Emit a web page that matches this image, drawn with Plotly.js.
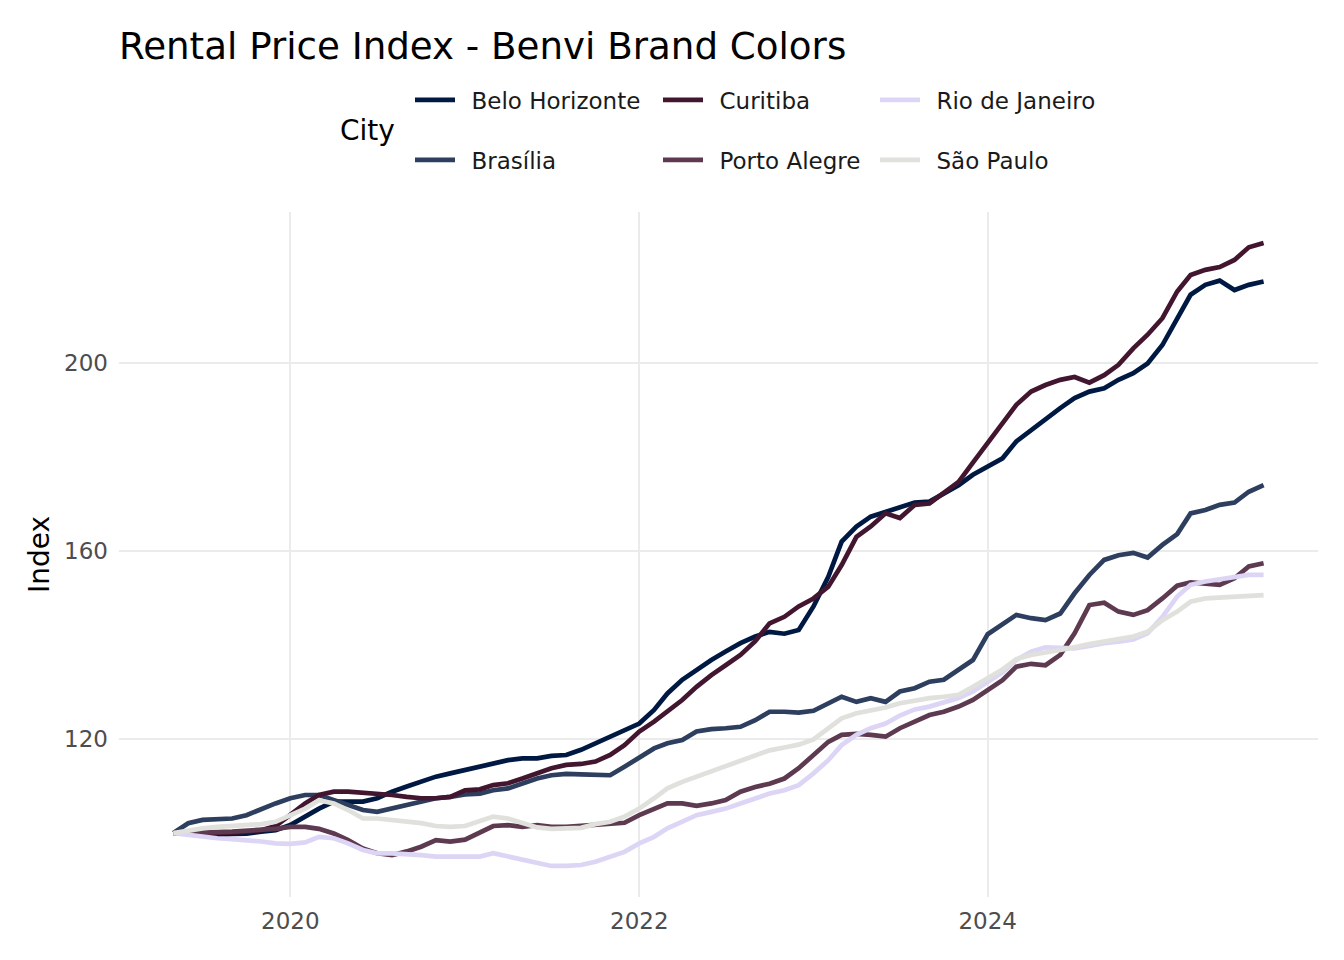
<!DOCTYPE html>
<html>
<head>
<meta charset="utf-8">
<script src="https://cdn.plot.ly/plotly-3.0.1.min.js"></script>
<style>
  html, body { margin: 0; padding: 0; background: #fff; }
  #chart { width: 1344px; height: 960px; }
</style>
</head>
<body>
<div id="chart"></div>
<script>
// monthly index, 2019-05 .. 2025-08
const START_MONTH = "2019-05";
const N_MONTHS = 76;

const cities = ["Belo Horizonte", "Brasília", "Curitiba", "Porto Alegre", "Rio de Janeiro", "São Paulo"];
const colors = ["#001942", "#2d3e5e", "#431630", "#5e3a50", "#ddd5f5", "#e0e0dc"];

const beloHorizonte = [
  100.0, 99.8, 99.6, 99.6, 99.8, 99.9, 100.3, 100.6, 101.7, 103.5,
  105.2, 106.7, 106.7, 106.7, 107.4, 108.8, 109.9, 110.9, 112.0, 112.7,
  113.4, 114.0, 114.8, 115.5, 115.9, 115.9, 116.4, 116.6, 117.7, 119.1,
  120.5, 121.9, 123.3, 126.2, 129.7, 132.6, 134.7, 136.8, 138.6, 140.4,
  141.8, 142.8, 142.4, 143.2, 148.2, 154.5, 162.0, 165.2, 167.3, 168.4,
  169.4, 170.3, 170.5, 172.3, 174.0, 176.2, 178.0, 179.7, 183.3, 185.7,
  188.2, 190.4, 192.5, 193.9, 194.6, 196.4, 197.8, 199.9, 203.8, 209.5,
  214.5, 216.6, 217.5, 215.5, 216.6, 217.3
];
const brasilia = [
  100.0, 102.1, 102.8, 102.9, 103.1, 103.8, 105.2, 106.3, 107.4, 108.1,
  108.1, 107.0, 106.0, 104.9, 104.5, 105.2, 106.0, 106.7, 107.4, 107.7,
  108.2, 108.4, 109.1, 109.5, 110.6, 111.6, 112.3, 112.6, 112.5, 112.3,
  112.3, 114.1, 116.2, 118.0, 119.1, 119.8, 121.6, 122.1, 122.3, 122.6,
  124.0, 125.8, 125.8, 125.6, 126.0, 127.6, 129.0, 127.9, 128.7, 127.9,
  130.1, 130.8, 132.2, 132.6, 134.7, 136.8, 142.3, 144.5, 146.4, 145.7,
  145.3, 146.7, 151.0, 154.9, 158.1, 159.1, 159.6, 158.6, 161.3, 163.6,
  168.0, 168.7, 169.8, 170.3, 172.6, 174.0
];
const curitiba = [
  100.0, 100.0, 100.0, 100.1, 100.1, 100.3, 100.6, 101.5, 103.8, 106.3,
  108.1, 108.8, 108.8, 108.6, 108.4, 108.1, 107.7, 107.4, 107.4, 107.7,
  109.1, 109.3, 110.2, 110.6, 111.6, 112.7, 113.8, 114.5, 114.7, 115.2,
  116.6, 118.7, 121.6, 123.7, 125.8, 128.3, 131.1, 133.6, 135.7, 137.9,
  140.8, 144.6, 146.0, 148.2, 149.9, 152.4, 157.0, 163.0, 165.2, 168.0,
  167.0, 169.8, 170.1, 172.3, 174.7, 178.8, 182.9, 187.2, 191.1, 193.9,
  195.3, 196.4, 197.0, 195.8, 197.4, 199.6, 203.1, 206.0, 209.5, 215.2,
  218.7, 219.8, 220.4, 221.9, 224.6, 225.5
];
const portoAlegre = [
  100.0, 100.0, 100.1, 100.2, 100.3, 100.5, 100.6, 100.9, 101.3, 101.3,
  100.9, 99.9, 98.5, 96.7, 95.7, 95.3, 96.1, 97.1, 98.5, 98.2,
  98.6, 100.1, 101.5, 101.7, 101.3, 101.7, 101.3, 101.3, 101.5, 101.7,
  102.1, 102.2, 103.8, 105.2, 106.3, 106.3, 105.8, 106.3, 107.0, 108.8,
  109.8, 110.5, 111.6, 113.8, 116.6, 119.4, 120.9, 121.1, 120.9, 120.5,
  122.3, 123.8, 125.1, 125.8, 126.9, 128.3, 130.4, 132.5, 135.4, 136.0,
  135.7, 137.9, 142.5, 148.5, 149.0, 147.1, 146.4, 147.4, 149.9, 152.6,
  153.3, 153.0, 152.8, 154.2, 156.7, 157.4
];
const rioDeJaneiro = [
  100.0, 99.6, 99.2, 98.9, 98.7, 98.5, 98.2, 97.8, 97.7, 98.0,
  99.2, 98.9, 97.8, 96.4, 95.7, 95.7, 95.6, 95.3, 95.0, 95.0,
  94.8, 95.0, 95.7, 95.0, 94.3, 93.5, 93.0, 93.0, 93.2, 93.9,
  95.0, 96.0, 97.8, 99.2, 101.0, 102.4, 103.8, 104.5, 105.2, 106.3,
  107.4, 108.4, 109.1, 110.2, 112.7, 115.5, 118.7, 120.9, 122.3, 123.3,
  125.0, 126.3, 126.9, 127.7, 128.7, 130.1, 132.2, 134.2, 136.8, 138.6,
  139.5, 139.3, 139.3, 139.8, 140.4, 140.7, 141.2, 142.5, 146.0, 150.3,
  152.8, 153.5, 154.0, 154.5, 154.9, 154.9
];
const saoPaulo = [
  100.0, 100.6, 101.0, 101.3, 101.5, 101.7, 101.9, 102.4, 103.8, 105.2,
  107.0, 106.3, 104.9, 103.1, 103.1, 102.8, 102.4, 102.1, 101.5, 101.3,
  101.5, 102.6, 103.5, 103.1, 102.1, 101.2, 100.9, 100.9, 101.1, 101.9,
  102.4, 103.5, 105.2, 107.4, 109.5, 110.9, 112.0, 113.0, 114.1, 115.3,
  116.4, 117.6, 118.2, 118.8, 119.9, 122.3, 124.4, 125.5, 126.0, 126.7,
  127.6, 128.2, 128.7, 129.0, 129.4, 131.1, 132.9, 134.8, 137.0, 137.9,
  138.4, 138.9, 139.5, 140.2, 140.7, 141.2, 141.8, 142.8, 145.3, 147.1,
  149.2, 149.9, 150.1, 150.1, 150.3, 150.6
];

const series = [beloHorizonte, brasilia, curitiba, portoAlegre, rioDeJaneiro, saoPaulo];

const xTickVals = ["2020-01-01", "2022-01-01", "2024-01-01"];
const xTickText = ["2020", "2022", "2024"];
const yTickVals = [120, 160, 200];

function monthSeq(start, n) {
  let [y, m] = start.split("-").map(Number);
  const out = [];
  for (let k = 0; k < n; k++) {
    out.push(`${y}-${String(m).padStart(2, "0")}-01`);
    m++;
    if (m > 12) { m = 1; y++; }
  }
  return out;
}

const dates = monthSeq(START_MONTH, N_MONTHS);

// ggplot-style legend: two rows (legend / legend2), columns of fixed width
const legendRow = ["legend", "legend2", "legend", "legend2", "legend", "legend2"];
const legendW = [193, 193, 162, 162, 0, 0];

const FONT = "DejaVu Sans";

const traces = cities.map((name, k) => ({
  type: "scatter",
  mode: "lines",
  // en space widens the gap between key and label, as in the original
  name: "\u2002" + name,
  x: dates,
  y: series[k],
  line: { color: colors[k], width: 4.7 },
  legend: legendRow[k],
  legendwidth: legendW[k] || undefined,
  hoverinfo: "skip",
}));

const legendBase = {
  orientation: "h",
  xref: "container",
  yref: "container",
  x: 410 / 1344,
  xanchor: "left",
  yanchor: "middle",
  itemwidth: 40,
  font: { family: FONT, size: 23, color: "#1a1a1a" },
  bgcolor: "rgba(0,0,0,0)",
  itemclick: false,
  itemdoubleclick: false,
};

const layout = {
  width: 1344,
  height: 960,
  paper_bgcolor: "#ffffff",
  plot_bgcolor: "#ffffff",
  font: { family: FONT, color: "#000" },
  margin: { l: 119, r: 26, t: 212, b: 63, autoexpand: false },
  title: {
    text: "Rental Price Index - Benvi Brand Colors",
    font: { family: FONT, size: 37.2, color: "#000" },
    xref: "paper",
    x: 0,
    xanchor: "left",
    yref: "container",
    y: 1 - 46 / 960,
    yanchor: "middle",
  },
  showlegend: true,
  legend: Object.assign({}, legendBase, { y: 1 - 100 / 960 }),
  legend2: Object.assign({}, legendBase, { y: 1 - 160 / 960 }),
  annotations: [{
    text: "City",
    xref: "paper",
    yref: "paper",
    x: (338 - 119) / 1199,
    y: (897 - 130) / 685,
    xanchor: "left",
    yanchor: "middle",
    showarrow: false,
    font: { family: FONT, size: 28, color: "#000" },
  }],
  xaxis: {
    type: "date",
    range: ["2019-01-07", "2025-11-23"],
    tickvals: xTickVals,
    ticktext: xTickText,
    ticks: "",
    ticklabelstandoff: 8,
    tickfont: { family: FONT, size: 23, color: "#4d4d4d" },
    showgrid: true,
    gridcolor: "#ebebeb",
    gridwidth: 2,
    zeroline: false,
    showline: false,
  },
  yaxis: {
    range: [86.4, 232.1],
    tickvals: yTickVals,
    ticks: "",
    ticklabelstandoff: 10,
    tickfont: { family: FONT, size: 23, color: "#4d4d4d" },
    title: { text: "Index", font: { family: FONT, size: 28, color: "#000" }, standoff: 6 },
    showgrid: true,
    gridcolor: "#ebebeb",
    gridwidth: 2,
    zeroline: false,
    showline: false,
  },
};

Plotly.newPlot("chart", traces, layout, { displayModeBar: false, staticPlot: true });
</script>
</body>
</html>
